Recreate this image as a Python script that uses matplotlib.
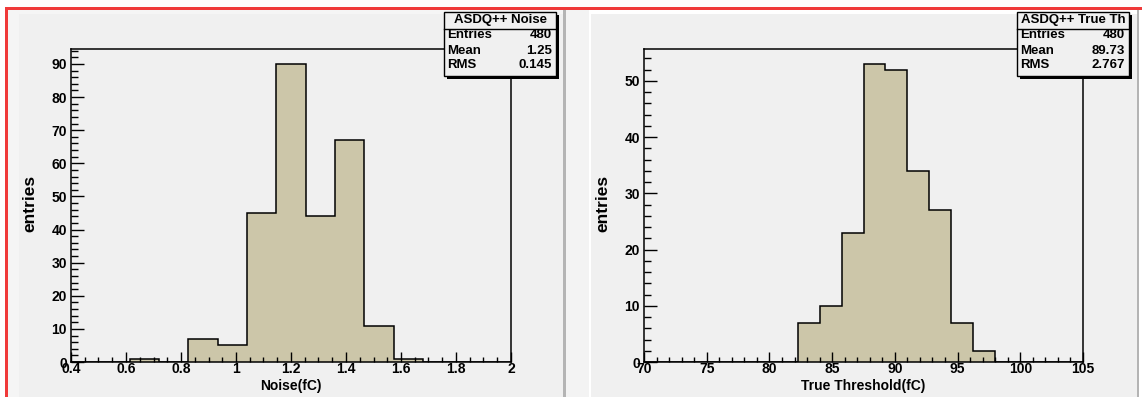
import numpy as np
import matplotlib
matplotlib.use("Agg")
import matplotlib.pyplot as plt
from matplotlib.patches import Rectangle
from matplotlib.ticker import MultipleLocator, FuncFormatter

plt.rcParams['font.family'] = ['Liberation Sans', 'DejaVu Sans']
plt.rcParams['font.weight'] = 'bold'

# noise histogram, 15 bins over 0.4 - 2 fC
noise_range = (0.4, 2.0)
noise_counts = [0, 0, 1, 0, 7, 5, 45, 90, 44, 67, 11, 1, 0, 0, 0]
noise_stats = [("Entries", "480"), ("Mean", "1.25"), ("RMS", "0.145")]

# true threshold histogram, 20 bins over 70 - 105 fC
thr_range = (70.0, 105.0)
thr_counts = [0, 0, 0, 0, 0, 0, 0, 7, 10, 23, 53, 52, 34, 27, 7, 2, 0, 0, 0, 0]
thr_stats = [("Entries", "480"), ("Mean", "89.73"), ("RMS", "2.767")]

W, H = 1142, 397
PAD = '#f0f0f0'
FILL = '#ccc6a9'

fig = plt.figure(figsize=(W / 100, H / 100), dpi=100)
fig.patch.set_facecolor('white')


def rect(x0, y0, x1, y1, color, z=0, **kw):
    r = Rectangle((x0 / W, 1 - y1 / H), (x1 - x0) / W, (y1 - y0) / H,
                  transform=fig.transFigure, facecolor=color, edgecolor='none',
                  zorder=z, **kw)
    fig.add_artist(r)
    return r


# canvas frames
rect(5, 7, W, 9.5, '#f03a3a')
rect(5, 7, 7.5, H, '#f03a3a')
rect(7.5, 9.5, 563, H, '#f5f5f5')
rect(19, 14, 563, H, PAD)
rect(563, 9.5, 565.5, H, '#b4b4b4')
rect(565.5, 9.5, 589, H, '#f3f3f3')
rect(591, 14, 1136.5, H, PAD)
rect(1136.5, 9.5, 1138.5, H, '#b4b4b4')


def fmt(v, pos):
    return '%g' % round(v, 6)


def draw_hist(box, rng, counts, xmaj, xmin, ymax, xtitle, xt_center):
    x0, y0, x1, y1 = box
    ax = fig.add_axes([x0 / W, 1 - y1 / H, (x1 - x0) / W, (y1 - y0) / H])
    ax.set_facecolor(PAD)
    edges = np.linspace(rng[0], rng[1], len(counts) + 1)
    ax.stairs(counts, edges, fill=True, color=FILL, zorder=1)
    ax.stairs(counts, edges, color='black', linewidth=1.1, zorder=2)
    ax.set_xlim(*rng)
    ax.set_ylim(0, ymax)
    ax.xaxis.set_major_locator(MultipleLocator(xmaj))
    ax.xaxis.set_minor_locator(MultipleLocator(xmin))
    ax.yaxis.set_major_locator(MultipleLocator(10))
    ax.yaxis.set_minor_locator(MultipleLocator(2))
    ax.xaxis.set_major_formatter(FuncFormatter(fmt))
    ax.tick_params(axis='both', which='both', direction='in', width=1.0,
                   colors='black', labelsize=10)
    ax.tick_params(axis='x', which='major', length=7.2, pad=0.3)
    ax.tick_params(axis='x', which='minor', length=3.4)
    ax.tick_params(axis='y', which='major', length=9.5, pad=3)
    ax.tick_params(axis='y', which='minor', length=5)
    for s in ax.spines.values():
        s.set_linewidth(1.1)
        s.set_zorder(3)
    for lab in ax.get_xticklabels() + ax.get_yticklabels():
        lab.set_fontweight('bold')
    fig.text((x0 - 41) / W, 1 - 203 / H, 'entries', rotation=90,
             ha='center', va='center', fontsize=12.5, fontweight='bold')
    fig.text(xt_center / W, 1 - 386 / H, xtitle, ha='center', va='center',
             fontsize=10, fontweight='bold')
    return ax


def stats_box(x0, x1, title, rows):
    y0, y1 = 12, 76
    rect(x0 + 3, y0 + 3, x1 + 3, y1 + 3, 'black', z=5)
    r = rect(x0, y0, x1, y1, PAD, z=6)
    r.set_edgecolor('black')
    r.set_linewidth(1.0)
    fig.add_artist(plt.Line2D([x0 / W, x1 / W], [1 - 28.5 / H, 1 - 28.5 / H],
                              transform=fig.transFigure, color='black',
                              linewidth=1.0, zorder=7))
    fig.text((x0 + x1) / 2 / W, 1 - 20.5 / H, title, ha='center', va='center',
             fontsize=9.5, fontweight='bold', zorder=8)
    for i, (name, val) in enumerate(rows):
        yy = 1 - (35.5 + 15 * i) / H
        fig.text((x0 + 3) / W, yy, name, ha='left', va='center',
                 fontsize=9.5, fontweight='bold', zorder=8)
        fig.text((x1 - 4) / W, yy, val, ha='right', va='center',
                 fontsize=9.5, fontweight='bold', zorder=8)


draw_hist((71, 49, 511, 362), noise_range, noise_counts, 0.2, 0.05,
          94.5, 'Noise(fC)', 291)
draw_hist((644, 49, 1083, 362), thr_range, thr_counts, 5, 1,
          55.65, 'True Threshold(fC)', 863)

stats_box(444, 556, 'ASDQ++ Noise', noise_stats)
stats_box(1017, 1129, 'ASDQ++ True Th', thr_stats)

fig.savefig('out.png', dpi=100, facecolor=fig.get_facecolor())
